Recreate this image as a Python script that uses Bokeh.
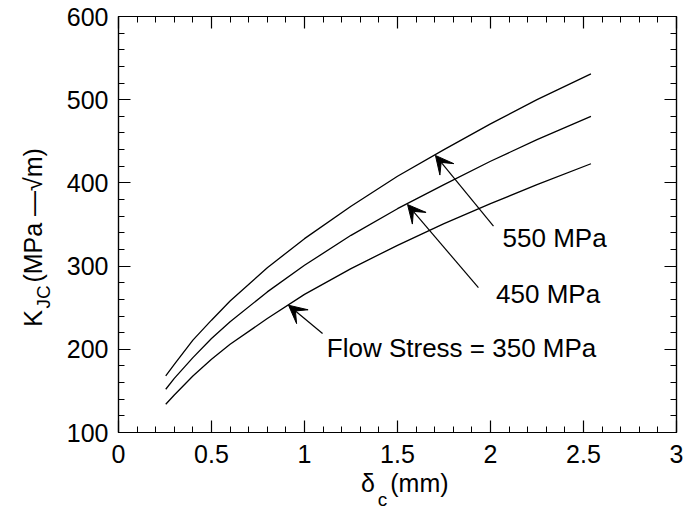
from bokeh.plotting import figure
from bokeh.models import (Range1d, LinearAxis, SingleIntervalTicker, FixedTicker, Label,
                          Arrow, VeeHead)
from bokeh.embed import file_html
from bokeh.resources import INLINE

# ---- data ----
delta_c = [0.254, 0.3, 0.4, 0.5, 0.6, 0.8, 1.0, 1.25, 1.5, 1.75, 2.0, 2.25, 2.54]
k_350 = [134, 145, 168, 188, 206, 237, 266, 297, 325, 351, 375, 398, 423]
k_450 = [152, 165, 190, 213, 233, 269, 301, 337, 369, 398, 426, 452, 480]
k_550 = [168, 182, 211, 235, 258, 298, 333, 372, 408, 440, 471, 500, 531]

x_major_ticks = [0, 0.5, 1, 1.5, 2, 2.5, 3]
y_major_ticks = [100, 200, 300, 400, 500, 600]

# curve annotations
ann_text = ["Flow Stress = 350 MPa", "450 MPa", "550 MPa"]
ann_text_x = [1.12, 2.03, 2.065]
ann_text_y = [202, 267, 334]
arrow_tail_x = [1.097, 1.935, 2.016]
arrow_tail_y = [219, 274, 348]
arrow_tip_x = [0.914, 1.554, 1.704]
arrow_tip_y = [253, 374, 433]

# axis titles, split into main text and subscript
x_title_main = ["\u03b4", "(mm)"]
x_title_main_pos = [1.341, 1.618]
x_title_sub = ["c"]
x_title_sub_pos = [1.419]
y_title_main = ["K", "(MPa \u2014\u221am)"]
y_title_main_pos = [237, 361]
y_title_sub = ["JC"]
y_title_sub_pos = [263]

FONT = "Liberation Sans"

p = figure(width=688, height=509, frame_width=558, frame_height=416,
           x_range=Range1d(0, 3), y_range=Range1d(100, 600),
           output_backend="svg", toolbar_location=None,
           min_border_left=118, min_border_right=12, min_border_top=16, min_border_bottom=77,
           x_axis_location=None, y_axis_location=None)
p.background_fill_color = "white"
p.border_fill_color = "white"
p.outline_line_color = "black"
p.outline_line_width = 1.2
p.xgrid.grid_line_color = None
p.ygrid.grid_line_color = None


def tick_axis(ticks, interval, show_labels):
    ax = LinearAxis(ticker=SingleIntervalTicker(interval=interval, num_minor_ticks=5))
    ax.axis_line_color = "black"
    ax.axis_line_width = 1.2
    ax.major_tick_in = 12
    ax.major_tick_out = 0
    ax.minor_tick_in = 6
    ax.minor_tick_out = 0
    ax.major_tick_line_color = "black"
    ax.minor_tick_line_color = "black"
    ax.major_tick_line_width = 1.2
    ax.minor_tick_line_width = 1
    if show_labels:
        ax.major_label_text_font = FONT
        ax.major_label_text_font_size = "25px"
        ax.major_label_text_color = "black"
    else:
        ax.major_label_overrides = {t: "" for t in ticks}
        ax.major_label_text_font_size = "1px"
        ax.major_label_standoff = 0
    return ax


def text_axis(positions, texts, size, standoff, orientation="horizontal"):
    ax = LinearAxis(ticker=FixedTicker(ticks=positions, minor_ticks=[]),
                    major_label_overrides=dict(zip(positions, texts)))
    ax.axis_line_color = None
    ax.major_tick_line_color = None
    ax.minor_tick_line_color = None
    ax.major_tick_in = 0
    ax.major_tick_out = 0
    ax.minor_tick_in = 0
    ax.minor_tick_out = 0
    ax.major_label_text_font = FONT
    ax.major_label_text_font_size = size
    ax.major_label_text_color = "black"
    ax.major_label_standoff = standoff
    ax.major_label_orientation = orientation
    return ax


xb = tick_axis(x_major_ticks, 0.5, True)
xb.major_label_standoff = 12
xt = tick_axis(x_major_ticks, 0.5, False)
yl = tick_axis(y_major_ticks, 100, True)
yl.major_label_standoff = 10
yr = tick_axis(y_major_ticks, 100, False)
p.add_layout(xb, "below")
p.add_layout(xt, "above")
p.add_layout(yl, "left")
p.add_layout(yr, "right")

# axis titles (closest-to-frame first)
p.add_layout(text_axis(x_title_main_pos, x_title_main, "25px", 3), "below")
p.add_layout(text_axis(x_title_sub_pos, x_title_sub, "19px", -11), "below")
p.add_layout(text_axis(y_title_sub_pos, y_title_sub, "19px", 9, "parallel"), "left")
p.add_layout(text_axis(y_title_main_pos, y_title_main, "25px", -17, "parallel"), "left")

for ys in (k_350, k_450, k_550):
    p.line(delta_c, ys, line_color="black", line_width=1.3)

for i in range(3):
    p.add_layout(Label(x=ann_text_x[i], y=ann_text_y[i], text=ann_text[i],
                       text_font=FONT, text_font_size="26px", text_color="black",
                       text_align="left", text_baseline="middle"))
    p.add_layout(Arrow(x_start=arrow_tail_x[i], y_start=arrow_tail_y[i],
                       x_end=arrow_tip_x[i], y_end=arrow_tip_y[i],
                       line_color="black", line_width=1.2,
                       end=VeeHead(size=18, fill_color="black", line_color="black", line_width=1)))

open("out.html", "w").write(file_html(p, INLINE))
